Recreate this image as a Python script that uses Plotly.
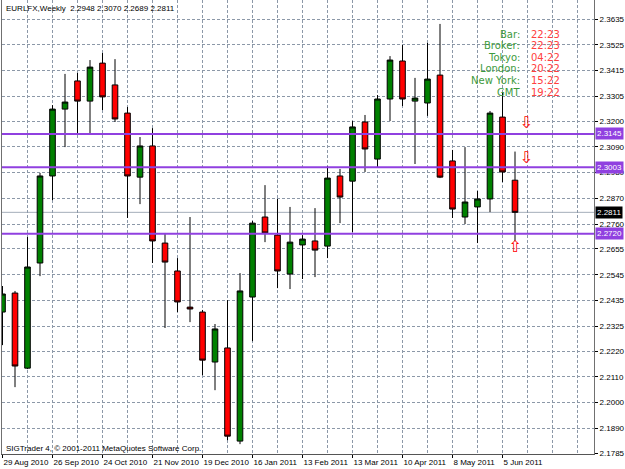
import plotly.graph_objects as go

# ---------------- data ----------------
opens = [2.2386, 2.2467, 2.2147, 2.2595, 2.2966, 2.3251, 2.3371, 2.3285, 2.3447, 2.3354,
         2.3234, 2.2961, 2.3094, 2.2680, 2.2561, 2.2407, 2.2386, 2.2173, 2.2233, 2.1836,
         2.2450, 2.2791, 2.2714, 2.2548, 2.2672, 2.2689, 2.2667, 2.2966, 2.2944, 2.3196,
         2.3038, 2.3294, 2.3456, 2.3285, 2.3277, 2.3396, 2.3030, 2.2791, 2.2834, 2.2868,
         2.3217, 2.2948]
highs = [2.2497, 2.2476, 2.2706, 2.2979, 2.3268, 2.3401, 2.3405, 2.3460, 2.3490, 2.3464,
         2.3260, 2.3132, 2.3170, 2.2723, 2.2616, 2.2791, 2.2395, 2.2335, 2.2437, 2.2552,
         2.2774, 2.2927, 2.2868, 2.2834, 2.2714, 2.2829, 2.3008, 2.2996, 2.3200, 2.3226,
         2.3311, 2.3477, 2.3524, 2.3384, 2.3533, 2.3614, 2.3077, 2.3089, 2.2902, 2.3243,
         2.3324, 2.3070]
lows = [2.2245, 2.2066, 2.2143, 2.2539, 2.2863, 2.3089, 2.3145, 2.3149, 2.3247, 2.3196,
        2.2787, 2.2846, 2.2595, 2.2318, 2.2386, 2.2343, 2.2117, 2.2053, 2.1840, 2.1823,
        2.2262, 2.2684, 2.2488, 2.2484, 2.2527, 2.2535, 2.2616, 2.2765, 2.2727, 2.2983,
        2.3004, 2.3200, 2.3264, 2.3017, 2.3222, 2.2957, 2.2787, 2.2761, 2.2680, 2.2812,
        2.2940, 2.2689]
closes = [2.2463, 2.2156, 2.2578, 2.2966, 2.3251, 2.3281, 2.3285, 2.3430, 2.3303, 2.3209,
          2.2966, 2.3094, 2.2689, 2.2599, 2.2429, 2.2399, 2.2181, 2.2314, 2.1857, 2.2476,
          2.2765, 2.2723, 2.2561, 2.2684, 2.2697, 2.2650, 2.2957, 2.2876, 2.3175, 2.3081,
          2.3294, 2.3460, 2.3294, 2.3298, 2.3379, 2.2961, 2.2825, 2.2855, 2.2868, 2.3234,
          2.2983, 2.2811]

date_tick_index = [0, 4, 8, 12, 16, 20, 24, 28, 32, 36, 40]
date_tick_labels = ["29 Aug 2010", "26 Sep 2010", "24 Oct 2010", "21 Nov 2010", "19 Dec 2010",
                    "16 Jan 2011", "13 Feb 2011", "13 Mar 2011", "10 Apr 2011", "8 May 2011",
                    "5 Jun 2011"]

price_ticks = [2.3635, 2.3525, 2.3415, 2.3305, 2.3200, 2.3090, 2.2980, 2.2870, 2.2760,
               2.2655, 2.2545, 2.2435, 2.2325, 2.2220, 2.2110, 2.2000, 2.1890, 2.1785]

level_lines = [2.3145, 2.3003, 2.2720]
bid_price = 2.2811

info_labels = ["Bar:", "Broker:", "Tokyo:", "London:", "New York:", "GMT"]
info_times = ["22:23", "22:23", "04:22", "20:22", "15:22", "19:22"]

down_arrow_x = [41.9, 41.9]
down_arrow_y = [2.3187, 2.3038]
up_arrow_x = [41.0]
up_arrow_y = [2.2659]

header = "EURLFX,Weekly  2.2948 2.3070 2.2689 2.2811"
footer = "SIGTrader 4, © 2001-2011 MetaQuotes Software Corp."

# ---------------- figure ----------------
W, H = 625, 469
ML, MR, MT, MB = 2, 31, 0, 15
PW, PH = W - ML - MR, H - MT - MB

x_idx = list(range(len(opens)))
GREEN = "#008000"
RED = "#FF0000"
PURPLE = "#9040E0"
GRID = "#8C98A8"
FONT = "Liberation Sans"

fig = go.Figure()

# bid line below candles
fig.add_hline(y=bid_price, line=dict(color="#A4AEBA", width=1), layer="below")

fig.add_trace(go.Candlestick(
    x=x_idx, open=opens, high=highs, low=lows, close=closes,
    increasing=dict(fillcolor=GREEN, line=dict(color="#000000", width=1)),
    decreasing=dict(fillcolor=RED, line=dict(color="#000000", width=1)),
    whiskerwidth=0, hoverinfo="skip", showlegend=False,
))

# level lines
for lv in level_lines:
    fig.add_hline(y=lv, line=dict(color=PURPLE, width=2), layer="above")

# arrows
fig.add_trace(go.Scatter(x=down_arrow_x, y=down_arrow_y, mode="text", text=["⇩"] * len(down_arrow_x),
                         textfont=dict(color=RED, size=16, family="DejaVu Sans"),
                         hoverinfo="skip", showlegend=False))
fig.add_trace(go.Scatter(x=up_arrow_x, y=up_arrow_y, mode="text", text=["⇧"] * len(up_arrow_x),
                         textfont=dict(color=RED, size=16, family="DejaVu Sans"),
                         hoverinfo="skip", showlegend=False))

# x range so that bar i sits at pixel 2.5 + 12.5*i
px_per_bar = 12.5
x0 = -0.04
x1 = x0 + PW / px_per_bar
y_top = 2.3716
y_bot = 2.1781

fig.update_layout(
    width=W, height=H,
    margin=dict(l=ML, r=MR, t=MT, b=MB, pad=0),
    paper_bgcolor="white", plot_bgcolor="white",
    boxgap=0.36,
    font=dict(family=FONT, size=8, color="black"),
    xaxis=dict(
        range=[x0, x1], rangeslider=dict(visible=False),
        tickvals=date_tick_index, ticktext=date_tick_labels,
        ticklabelposition="outside right", tickangle=0,
        ticks="outside", ticklen=3, tickcolor="#000000",
        showgrid=True, gridcolor=GRID, griddash="3px,2px", gridwidth=1,
        minor=dict(dtick=2, tick0=0, showgrid=True, gridcolor=GRID, griddash="3px,2px", ticks=""),
        showline=True, linecolor="#555555", linewidth=1,
        zeroline=False, tickfont=dict(family=FONT, size=8, color="black"),
        fixedrange=True,
    ),
    yaxis=dict(
        range=[y_bot, y_top], side="right",
        tickvals=price_ticks, ticktext=[f"{v:.4f}" for v in price_ticks],
        ticks="outside", ticklen=3, tickcolor="#000000",
        showgrid=True, gridcolor=GRID, griddash="3px,2px", gridwidth=1,
        showline=True, linecolor="#707070", linewidth=1, mirror=True,
        zeroline=False, tickfont=dict(family=FONT, size=8, color="black"),
        fixedrange=True,
    ),
)

def px_to_paper_x(px):
    return (px - ML) / PW

def py_to_paper_y(py):
    return 1 - (py - MT) / PH

annotations = []
annotations.append(dict(text=header, xref="paper", yref="paper", x=px_to_paper_x(4), y=py_to_paper_y(8),
                        xanchor="left", yanchor="middle", showarrow=False,
                        font=dict(family=FONT, size=8, color="black")))
annotations.append(dict(text=footer, xref="paper", yref="paper", x=px_to_paper_x(4), y=py_to_paper_y(448),
                        xanchor="left", yanchor="middle", showarrow=False,
                        font=dict(family=FONT, size=8, color="black")))

row_y = [34.0, 45.6, 57.2, 68.8, 80.4, 92.0]
for lab, tm, ry in zip(info_labels, info_times, row_y):
    annotations.append(dict(text=lab, xref="paper", yref="paper", x=px_to_paper_x(522), y=py_to_paper_y(ry),
                            xanchor="right", yanchor="middle", showarrow=False,
                            font=dict(family="DejaVu Sans", size=10, color="#3C9A3C")))
    annotations.append(dict(text=tm, xref="paper", yref="paper", x=px_to_paper_x(529), y=py_to_paper_y(ry),
                            xanchor="left", yanchor="middle", showarrow=False,
                            font=dict(family="DejaVu Sans", size=10, color="#FF4040")))

for lv in level_lines:
    annotations.append(dict(text=f"{lv:.4f}", xref="paper", yref="y", x=1, y=lv, xanchor="left",
                            yanchor="middle", xshift=1, showarrow=False, bgcolor=PURPLE, borderpad=1,
                            font=dict(family=FONT, size=8, color="white")))
annotations.append(dict(text=f"{bid_price:.4f}", xref="paper", yref="y", x=1, y=bid_price, xanchor="left",
                        yanchor="middle", xshift=1, showarrow=False, bgcolor="#000000", borderpad=1,
                        font=dict(family=FONT, size=8, color="white")))

fig.update_layout(annotations=annotations)

fig.write_html("out.html", config={"displayModeBar": False})
